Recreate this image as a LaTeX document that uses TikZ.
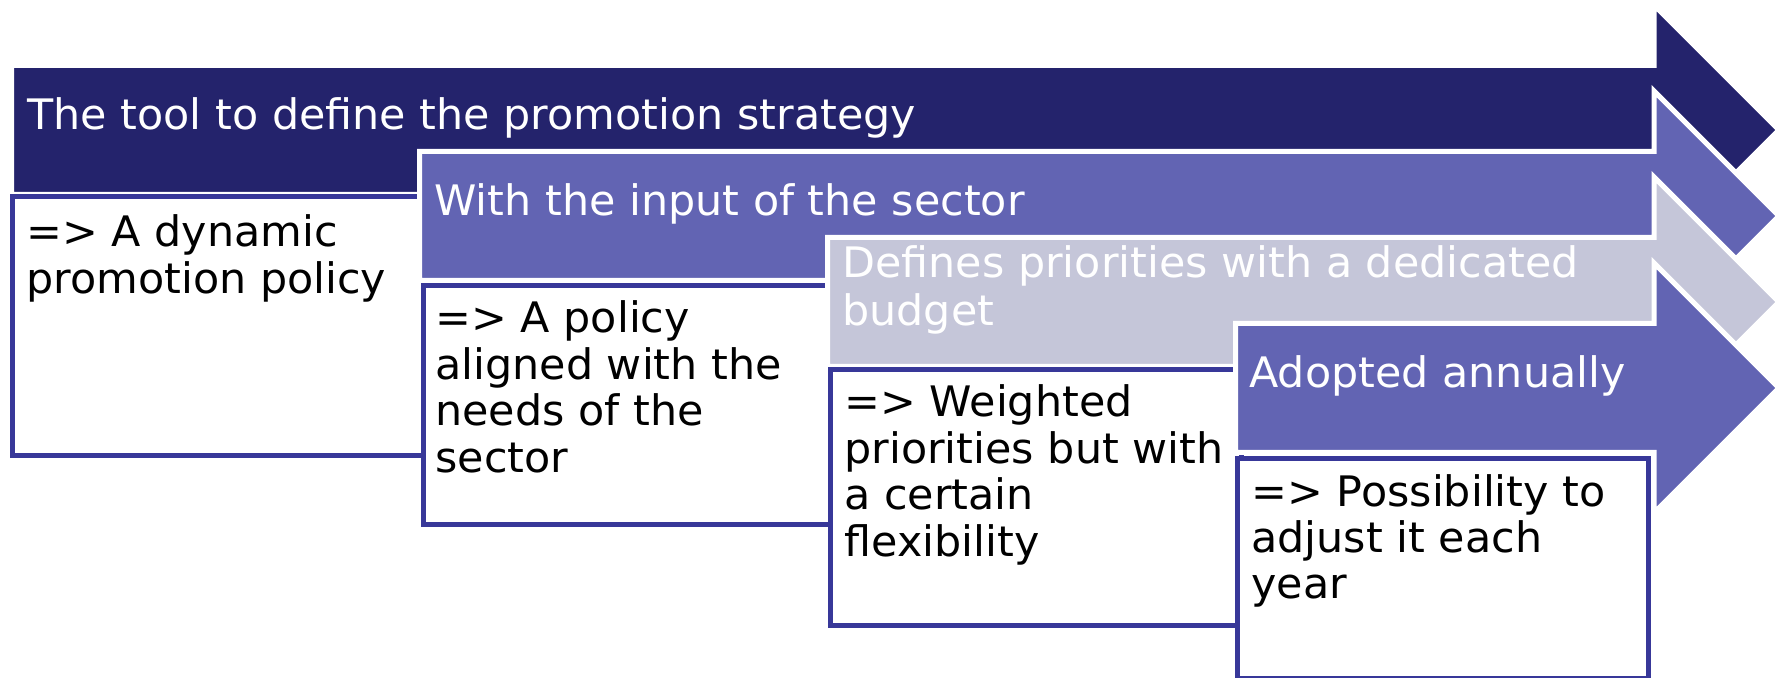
\documentclass[tikz,border=0pt]{standalone}
\usepackage{fontspec}
\setmainfont[FakeStretch=1.02]{DejaVu Sans}
\definecolor{navy}{HTML}{24236C}
\definecolor{midblue}{HTML}{6264B3}
\definecolor{lightgrey}{HTML}{C5C6D9}
\definecolor{boxblue}{HTML}{383899}
\newcommand{\mylines}[1]{\begin{tabular}[t]{@{}l@{}}#1\end{tabular}}
\tikzset{
  arrowshape/.style={draw=white, line width=2.5pt, line join=miter},
  boxframe/.style={draw=boxblue, fill=white, line width=2.5pt},
  headtext/.style={text=white, font=\fontsize{21}{24}\selectfont, anchor=base west, inner sep=0pt},
  bodytext/.style={text=black, font=\fontsize{21}{23.2}\selectfont, anchor=base west, inner sep=0pt}
}
\begin{document}
\begin{tikzpicture}[x=0.5pt,y=-0.5pt]
\useasboundingbox (0,0) rectangle (1783,678);
% arrow 1
\path[arrowshape, fill=navy] (11.5,65.5) -- (1654,65.5) -- (1654,5) -- (1779,130) -- (1654,255) -- (1654,194.5) -- (11.5,194.5) -- cycle;
\node[headtext] (h1) at (27,130) {The tool to define the promotion strategy};
% box 1
\path[boxframe] (12.5,196.5) rectangle (423.5,455.5);
\node[bodytext] (b1) at (26,247) {\mylines{=> A dynamic\\promotion policy}};
% arrow 2
\path[arrowshape, fill=midblue] (419.5,151.5) -- (1654,151.5) -- (1654,91) -- (1779,216) -- (1654,341) -- (1654,280.5) -- (419.5,280.5) -- cycle;
\node[headtext] (h2) at (434,216) {With the input of the sector};
% box 2
\path[boxframe] (423.5,285.5) rectangle (834.5,524.5);
\node[bodytext] (b2) at (435,333) {\mylines{=> A policy\\aligned with the\\needs of the\\sector}};
% arrow 3
\path[arrowshape, fill=lightgrey] (827.5,237.5) -- (1654,237.5) -- (1654,177) -- (1779,302) -- (1654,427) -- (1654,366.5) -- (827.5,366.5) -- cycle;
\node[headtext] (h3) at (842,278) {\mylines{Defines priorities with a dedicated\\budget}};
% box 3
\path[boxframe] (830.5,369.5) rectangle (1241.5,625.5);
\node[bodytext] (b3) at (844,417) {\mylines{=> Weighted\\priorities but with\\a certain\\flexibility}};
% arrow 4
\path[arrowshape, fill=midblue] (1235.5,323.5) -- (1654,323.5) -- (1654,263) -- (1779,388) -- (1654,513) -- (1654,452.5) -- (1235.5,452.5) -- cycle;
\node[headtext] (h4) at (1249,388) {Adopted annually};
% box 4
\path[boxframe] (1237.5,458.5) rectangle (1648.5,678.5);
\node[bodytext] (b4) at (1251,506) {\mylines{=> Possibility to\\adjust it each\\year}};
\end{tikzpicture}
\end{document}
